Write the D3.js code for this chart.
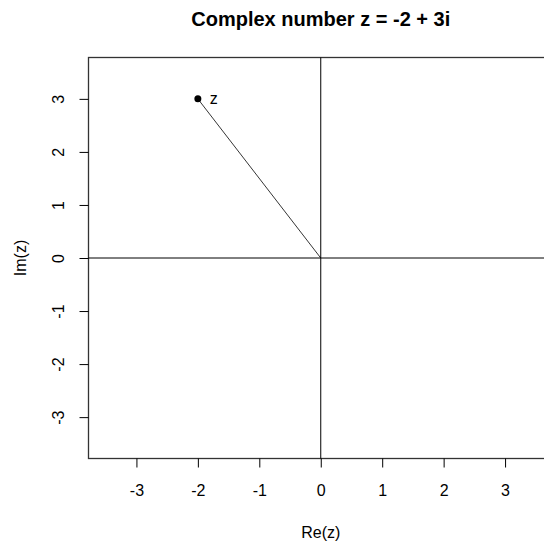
<!DOCTYPE html>
<html>
<head>
<meta charset="utf-8">
<script src="https://cdn.jsdelivr.net/npm/d3@7"></script>
<style>
  body { margin: 0; background: #fff; }
  svg { display: block; font-family: "Liberation Sans", Arial, sans-serif; }
</style>
</head>
<body>
<script>
// data
const zRe = [-2];
const zIm = [3];
const zLabels = ['z'];
const xTicks = [-3, -2, -1, 0, 1, 2, 3];
const yTicks = [-3, -2, -1, 0, 1, 2, 3];
const lim = [-3.78, 3.78];

const W = 544, H = 543;
const x = d3.scaleLinear().domain(lim).range([88.5, 553]);
const y = d3.scaleLinear().domain(lim).range([458.5, 57.5]);

const svg = d3.select(document.body).append('svg')
  .attr('width', W)
  .attr('height', H);

// box (right edge falls outside the window)
svg.append('rect')
  .attr('x', x(lim[0]))
  .attr('y', y(lim[1]))
  .attr('width', x(lim[1]) - x(lim[0]))
  .attr('height', y(lim[0]) - y(lim[1]))
  .attr('fill', 'none')
  .attr('stroke', '#333')
  .attr('stroke-width', 1.3)

const fmt = d => d < 0 ? '-' + Math.abs(d) : d;
const xAxis = d3.axisBottom(x).tickValues(xTicks).tickSize(9).tickFormat(fmt);
const yAxis = d3.axisLeft(y).tickValues(yTicks).tickSize(9).tickFormat(fmt);

const gx = svg.append('g')
  .attr('transform', `translate(0, ${y(lim[0])})`)
  .call(xAxis);
gx.select('.domain').remove();
gx.selectAll('line').attr('stroke', '#000');
gx.selectAll('text')
  .attr('font-size', 16).attr('fill', '#000').attr('font-family', 'Liberation Sans, Arial, sans-serif')
  .attr('y', 32).attr('dy', null)
  .attr('dominant-baseline', 'central');

const gy = svg.append('g')
  .attr('transform', `translate(${x(lim[0])}, 0)`)
  .call(yAxis);
gy.select('.domain').remove();
gy.selectAll('line').attr('stroke', '#000');
gy.selectAll('text')
  .attr('font-size', 16).attr('fill', '#000').attr('font-family', 'Liberation Sans, Arial, sans-serif')
  .attr('x', null).attr('dy', null)
  .attr('text-anchor', 'middle')
  .attr('transform', 'translate(-30, 0) rotate(-90)')
  .attr('dominant-baseline', 'central');

// axes through origin
svg.append('line')
  .attr('x1', x(lim[0])).attr('x2', x(lim[1]))
  .attr('y1', y(0)).attr('y2', y(0))
  .attr('stroke', '#000');
svg.append('line')
  .attr('x1', x(0)).attr('x2', x(0))
  .attr('y1', y(lim[1])).attr('y2', y(lim[0]))
  .attr('stroke', '#000');

// vector from origin to z
svg.selectAll('.vec')
  .data(zRe)
  .enter().append('line')
  .attr('class', 'vec')
  .attr('x1', x(0)).attr('y1', y(0))
  .attr('x2', d => x(d))
  .attr('y2', (d, i) => y(zIm[i]))
  .attr('stroke', '#000')
  .attr('stroke-width', 0.8);

svg.selectAll('.pt')
  .data(zRe)
  .enter().append('circle')
  .attr('class', 'pt')
  .attr('cx', d => x(d))
  .attr('cy', (d, i) => y(zIm[i]))
  .attr('r', 3.5)
  .attr('fill', '#000');

svg.selectAll('.lab')
  .data(zRe)
  .enter().append('text')
  .attr('class', 'lab')
  .attr('x', d => x(d) + 12)
  .attr('y', (d, i) => y(zIm[i]))
  .attr('dominant-baseline', 'central')
  .attr('font-size', 16)
  .text((d, i) => zLabels[i]);

// title and axis labels
svg.append('text')
  .attr('x', x(0))
  .attr('y', 26)
  .attr('text-anchor', 'middle')
  .attr('font-size', 20)
  .attr('font-weight', 'bold')
  .text('Complex number z = -2 + 3i');

svg.append('text')
  .attr('x', x(0))
  .attr('y', 532)
  .attr('text-anchor', 'middle')
  .attr('dominant-baseline', 'central')
  .attr('font-size', 16)
  .text('Re(z)');

svg.append('text')
  .attr('transform', `translate(20, ${y(0)}) rotate(-90)`)
  .attr('text-anchor', 'middle')
  .attr('dominant-baseline', 'central')
  .attr('font-size', 16)
  .text('Im(z)');
</script>
</body>
</html>
